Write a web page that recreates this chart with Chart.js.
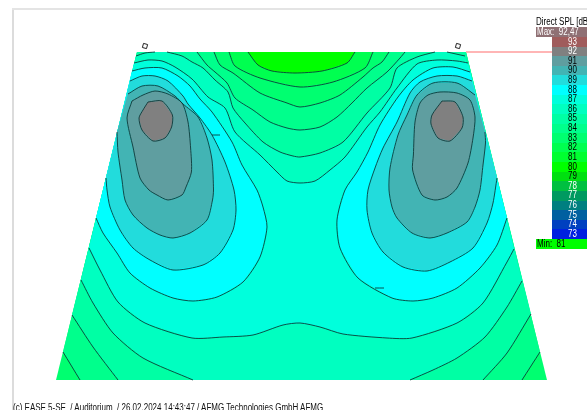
<!DOCTYPE html>
<html><head><meta charset="utf-8">
<style>
html,body{margin:0;padding:0;background:#fff;width:587px;height:410px;overflow:hidden}
#wrap{position:relative;width:587px;height:410px;overflow:hidden}
canvas{position:absolute;left:0;top:0}
.t{position:absolute;font:10px/10px "Liberation Sans",sans-serif;white-space:pre;transform-origin:0 0;transform:scaleX(.8)}
.b{position:absolute}
</style>
<script src="https://cdn.jsdelivr.net/npm/chart.js@4"></script>
</head><body><div id="wrap"><canvas id="c" width="587" height="410"></canvas></div>
<script>
// Room outline
const cornerTL=[137,52], cornerTR=[466,52], cornerBR=[547,380], cornerBL=[56,380];
// Contour lines (plan units)
const lineA=[[248,52],[258,65],[272,71],[295,73],[322,71],[347,63],[355,52]];
const lineB=[[229,52],[235,66],[260,78],[300,87],[333,82],[365,68],[373,52]];
const lineC=[[214,52],[220,65],[233,73],[260,93],[287,103],[300,107],[320,103],[340,95],[363,77],[373,68],[382,62],[389,52]];
const lineD=[[197,52],[207,65],[215,72],[227,83],[235,98],[253,110],[270,122],[287,128],[300,130],[320,127],[337,117],[352,103],[367,88],[387,72],[400,58],[405,52]];
const lineE=[[167,52],[182,56],[192,62],[203,68],[215,80],[228,92],[233,108],[245,123],[263,142],[280,152],[293,156],[300,157],[320,153],[343,142],[367,113],[390,88],[397,68],[417,57],[435,52]];
const cornerLeft=[[136,56],[145,53],[155,52]];
const cornerRight=[[447,52],[465,56]];
const lineF=[[134,63],[148,60],[162,61],[175,67],[192,79],[208,97],[225,108],[235,132],[260,155],[277,172],[287,181],[300,183],[315,181],[330,170],[345,157],[367,127],[380,112],[397,88],[417,64],[437,60],[457,61],[468,63]];
const lineI=[[89,248],[100,270],[118,302],[145,323],[192,338],[223,337],[253,335],[283,325],[300,323],[320,327],[343,334],[387,338],[412,338],[457,323],[483,303],[507,262],[514,249]];
const lineJ=[[81,280],[93,303],[113,333],[143,358],[193,380]];
const lineJr=[[410,380],[433,370],[457,358],[485,337],[507,307],[522,281]];
const lineK=[[72,315],[93,347],[118,380]];
const lineKr=[[483,380],[507,353],[531,314]];
const lineL=[[63,352],[80,380]];
const lineLr=[[522,380],[540,352]];
const cyanLeft=[[132,71],[145,68],[162,68],[178,76],[190,86],[200,99],[212,112],[232,142],[242,165],[257,190],[263,207],[267,227],[260,257],[243,282],[217,297],[193,301],[173,298],[150,288],[130,273],[117,253],[103,233],[96,218]];
const cyanRight=[[470,72],[453,67],[433,68],[413,80],[398,97],[380,125],[368,152],[357,172],[345,190],[337,220],[340,248],[358,278],[392,298],[413,301],[433,298],[457,288],[480,268],[497,245],[507,218]];
const teal89Left=[[130,81],[142,76],[155,76],[168,81],[183,96],[188,104],[200,118],[212,135],[225,162],[234,190],[236,210],[233,230],[220,253],[203,265],[173,270],[150,260],[133,248],[120,230],[110,207],[107,190],[106,178]];
const teal89Right=[[472,81],[457,76],[437,76],[420,82],[410,93],[397,122],[383,148],[375,168],[368,190],[367,210],[372,233],[383,252],[403,267],[427,271],[450,262],[473,248],[487,223],[493,203],[497,178]];
const teal90Left=[[128,94],[142,86],[158,86],[175,96],[183,104],[198,117],[207,138],[212,160],[213.5,190],[212.5,200],[207,220],[190,233],[173,238],[160,235],[147,228],[133,215],[125,200],[122,180],[118,152],[117,132]];
const teal90Right=[[475,95],[457,83],[433,83],[417,95],[407,115],[398,135],[390,168],[389,190],[392,207],[397,218],[412,233],[430,238],[447,233],[467,222],[475,207],[480,190],[483,165],[485.5,143],[485,132]];
const teal91Left=[[132,101],[143,95],[155,91],[168,94],[182,103],[188,122],[190.6,148],[191.4,172],[186,187],[182,195],[168,200],[157,195],[149,190],[140,178],[133,147],[127,118],[132,101]];
const teal91Right=[[413.4,155],[415,122],[420,103],[428,95],[440,92],[457,93],[470,100],[475,117],[473,138],[468,163],[457,188],[447,197],[435,200],[422,195],[412.6,170],[413.4,155]];
const grayLeft=[[148,102],[162,101],[172.4,115],[171.6,127],[165,138],[153,141],[142,130],[139,118],[143,110],[148,102]];
const grayRight=[[442,101],[455,102],[463,117],[462,128],[450,141],[438,138],[431,124],[432,115],[442,101]];
const tickLeft=[[212,135],[220,135]];
const tickRight=[[375,288],[384,288]];
const leaderLine=[[466,52],[552,52]];
const speakers=[[145,46],[458,46]];
// Colour scale
const legendLevels=[93,92,91,90,89,88,87,86,85,84,83,82,81,80,79,78,77,76,75,74,73];
const legendColors=['#a05c5c','#808080','#5f9ea0','#42b4b4','#22dcdc','#00ffff','#00ffdc','#00ffc0','#00ffa4','#00ff8c','#00ff70','#00ff50','#00ff30','#00ff00','#00e010','#00c040','#009a60','#007f80','#0060a0','#0040c0','#0020e0'];
const legendTitle='Direct SPL [dB';
const maxLabel='Max:  92,47';
const minLabel='Min:  81';
const footerText='(c) EASE 5-SE  / Auditorium  / 26.02.2024 14:43:47 / AFMG Technologies GmbH AFMG';

const col=l=>legendColors[legendLevels.indexOf(l)];
const rev=a=>[...a].reverse();
const fills=[
 [[cornerTL,cornerTR,cornerBR,cornerBL],col(83)],
 [lineB,col(82)],
 [lineA,col(80)],
 [[...lineC,cornerTR,...rev(lineLr),...rev(lineL),cornerTL],col(84)],
 [[...lineD,cornerTR,...rev(lineKr),...rev(lineK),cornerTL],col(85)],
 [[...cornerLeft,...lineE,...cornerRight,...rev(lineJr),...rev(lineJ)],col(86)],
 [[...lineF,...rev(lineI)],col(87)],
 [cyanLeft,col(88)],[cyanRight,col(88)],
 [teal89Left,col(89)],[teal89Right,col(89)],
 [teal90Left,col(90)],[teal90Right,col(90)],
 [teal91Left,col(91)],[teal91Right,col(91)],
 [grayLeft,col(92)],[grayRight,col(92)]
];
const strokes=[lineA,lineB,lineC,lineD,lineE,cornerLeft,cornerRight,lineF,lineI,lineJ,lineJr,lineK,lineKr,lineL,lineLr,cyanLeft,cyanRight,teal89Left,teal89Right,teal90Left,teal90Right,teal91Left,teal91Right,grayLeft,grayRight,tickLeft,tickRight];
const pts=a=>a.map(p=>({x:p[0],y:p[1]}));
const datasets=[];
fills.forEach(f=>datasets.push({data:pts(f[0]),showLine:true,fill:'shape',backgroundColor:f[1],borderWidth:0,borderColor:'rgba(0,0,0,0)',pointRadius:0,tension:0}));
strokes.forEach(s=>datasets.push({data:pts(s),showLine:true,fill:false,borderColor:'rgba(10,50,50,.85)',borderWidth:1,pointRadius:0,tension:.25}));
datasets.push({data:pts(leaderLine),showLine:true,fill:false,borderColor:'#ff9c9c',borderWidth:1.5,pointRadius:0});
datasets.push({data:pts(speakers),showLine:false,pointStyle:'rect',pointRadius:3,pointRotation:15,pointBackgroundColor:'#fff',pointBorderColor:'#222',pointBorderWidth:1});
datasets.forEach((d,i)=>d.order=datasets.length-i);
new Chart(document.getElementById('c'),{type:'scatter',data:{datasets},options:{responsive:false,animation:false,events:[],layout:{padding:0,autoPadding:false},
 plugins:{legend:{display:false},tooltip:{enabled:false}},
 scales:{x:{type:'linear',min:0,max:587,display:false},y:{type:'linear',min:0,max:410,reverse:true,display:false}}}});

// Frame, colour legend and footer
const wrap=document.getElementById('wrap');
function box(l,t,w,h,c){const d=document.createElement('div');d.className='b';d.style.cssText=`left:${l}px;top:${t}px;width:${w}px;height:${h}px;background:${c}`;wrap.appendChild(d);return d;}
function text(l,t,s,c){const d=document.createElement('div');d.className='t';d.textContent=s;d.style.left=l+'px';d.style.top=t+'px';d.style.color=c;wrap.appendChild(d);}
box(12,9,2,401,'#dcdcdc');box(12,8,575,2,'#e4e4e4');
text(536,17,legendTitle,'#000');
box(536,27,51,10,'#8f7074');text(537,27,maxLabel,'#fff');
const cellH=(239-37)/legendLevels.length;
legendLevels.forEach((v,i)=>{const top=37+i*cellH;box(552,top,35,cellH+.5,legendColors[i]);
 const light=v>=92||v<=78;text(568,top-.5,String(v),light?'#fff':'#000');});
box(536,239,51,10,'#00ff00');text(537,239,minLabel,'#000');
text(13,403,footerText,'#111');
</script></body></html>
